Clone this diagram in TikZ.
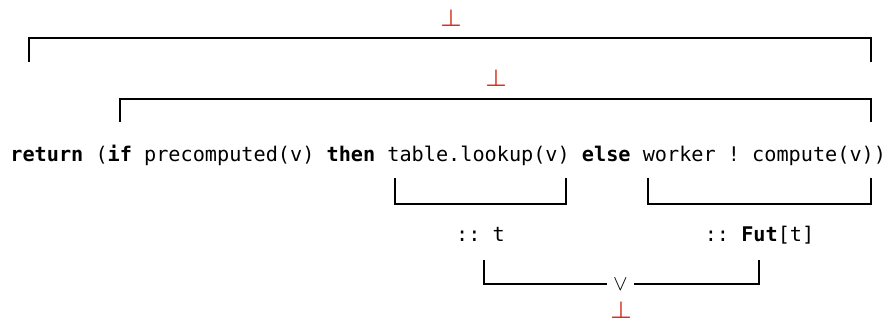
\documentclass[tikz,border=0pt]{standalone}
\usepackage{fontspec}
\setmonofont{DejaVu Sans Mono}
\usepackage{amsmath, amssymb}
\usepackage{tikz}
\definecolor{botred}{RGB}{212,50,32}
\tikzset{
  brk/.style={line width=1pt},
  botsym/.style={text=botred, inner sep=0pt, font=\fontsize{13}{14}\selectfont\boldmath},
  codetxt/.style={inner sep=0pt, font=\ttfamily\fontsize{10.1}{12}\selectfont}
}

\begin{document}
\begin{tikzpicture}[x=0.5pt,y=-0.5pt]
     \useasboundingbox (0,0) rectangle (887,325);

     \path (10,162) node[codetxt, anchor=base west] (code)
       {\textbf{return} (\textbf{if} precomputed(v) \textbf{then} table.lookup(v) \textbf{else} worker ! compute(v))};

     \path (451,18) node[botsym] (bota) {$\bot$};
     \path (496,78) node[botsym] (botb) {$\bot$};
     \path (621,310) node[botsym] (botc) {$\bot$};

     \path (480.5,242) node[codetxt, anchor=base] (tyl) {:: t};
     \path (759.5,242) node[codetxt, anchor=base] (tyr) {:: \textbf{Fut}[t]};
     \path (620.5,284) node[inner sep=0pt, minimum width=13.5pt, font=\fontsize{11}{12}\selectfont] (join) {$\vee$};

     \coordinate (outl) at (29,62);
     \coordinate (outr) at (871,62);
     \coordinate (inl) at (120,122);
     \coordinate (inr) at (871,122);
     \coordinate (thl) at (395,178);
     \coordinate (thr) at (566,178);
     \coordinate (ell) at (648,178);
     \coordinate (elr) at (871,178);
     \coordinate (tl) at (484,260);
     \coordinate (tr) at (759,260);

     \draw[brk] (outl) -- ++(0,-24) -| (outr);
     \draw[brk] (inl) -- ++(0,-23) -| (inr);
     \draw[brk] (thl) -- ++(0,26) -| (thr);
     \draw[brk] (ell) -- ++(0,26) -| (elr);
     \draw[brk] (tl) |- (join.west);
     \draw[brk] (join.east) -| (tr);

   \end{tikzpicture}
\end{document}
